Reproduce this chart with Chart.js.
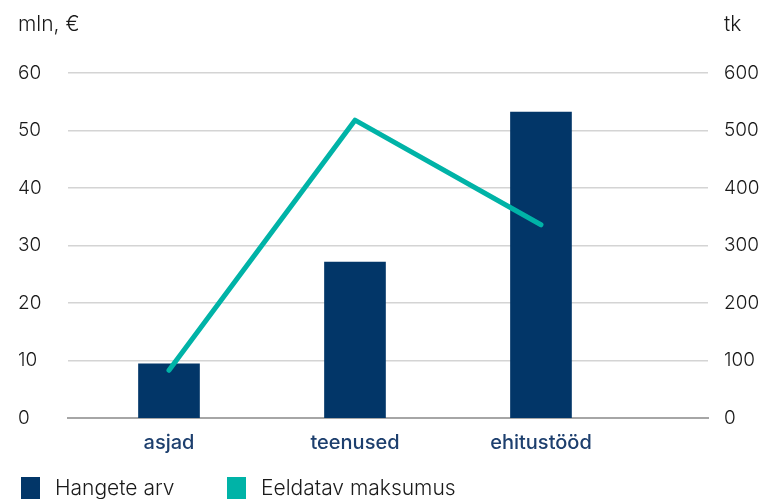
<!DOCTYPE html>
<html>
<head>
<meta charset="utf-8">
<script src="https://cdn.jsdelivr.net/npm/chart.js@4"></script>
<style>
  html, body { margin: 0; padding: 0; background: #fff; overflow: hidden; }
  #wrap { width: 783px; height: 499px; }
</style>
</head>
<body>
<div id="wrap"><canvas id="c"></canvas></div>
<script>
// kategooriad ja väärtused
const categories = ['asjad', 'teenused', 'ehitustööd'];
const hangeteArv = [94, 271, 532];          // tk, parem telg
const eeldatavMaksumus = [8.3, 51.8, 33.6]; // mln €, vasak telg
const leftTicks = [0, 10, 20, 30, 40, 50, 60];
const rightTicks = [0, 100, 200, 300, 400, 500, 600];

const NAVY = '#023668';
const TEAL = '#00b3a7';
const LEGEND_GAP = 48;

// telje pealkirjad üleval
const axisTitles = {
    id: 'axisTitles',
    afterDraw(chart) {
        const ctx = chart.ctx;
        ctx.save();
        ctx.font = '300 21px Inter';
        ctx.fillStyle = '#1a1a1a';
        ctx.textBaseline = 'middle';
        ctx.textAlign = 'left';
        ctx.fillText('mln, €', 18, 25);
        ctx.fillText('tk', 724, 25);
        ctx.restore();
    }
};

// legend: suur vahe elementide vahel, aga madal kõrgus
const legendPlace = {
    id: 'legendPlace',
    afterInit(chart) {
        const lg = chart.legend;
        const fit = lg.fit;
        lg.fit = function () { fit.call(this); this.height = 35; };
    },
    afterLayout(chart) {
        const lg = chart.legend;
        lg.top = 472.5 - LEGEND_GAP;
        lg.left = 16.5 - LEGEND_GAP;
    }
};

new Chart(document.getElementById('c'), {
    type: 'bar',
    data: {
        datasets: [
            {
                type: 'bar',
                label: 'Hangete arv',
                data: hangeteArv.map((v, i) => ({ x: i, y: v })),
                yAxisID: 'y1',
                backgroundColor: NAVY,
                borderWidth: 0,
                barThickness: 61,
                order: 2
            },
            {
                type: 'line',
                label: 'Eeldatav maksumus',
                data: eeldatavMaksumus.map((v, i) => ({ x: i, y: v })),
                yAxisID: 'y',
                borderColor: TEAL,
                backgroundColor: TEAL,
                borderWidth: 5,
                borderCapStyle: 'round',
                borderJoinStyle: 'round',
                pointRadius: 0,
                tension: 0,
                order: 1
            }
        ]
    },
    options: {
        responsive: true,
        maintainAspectRatio: false,
        animation: false,
        layout: { padding: { top: 73, left: 18, right: 0, bottom: 0 } },
        scales: {
            x: {
                type: 'linear',
                offset: false,
                min: -0.543,
                max: 2.898,
                afterBuildTicks(axis) { axis.ticks = categories.map((c, i) => ({ value: i })); },
                afterFit(axis) { axis.height = 46; },
                grid: { display: false },
                border: { display: true, color: '#a6a6a6', width: 2 },
                ticks: {
                    callback: (v) => categories[v],
                    color: '#1d3f6e',
                    font: { family: 'Inter', size: 20, weight: '500' },
                    padding: 5,
                    maxRotation: 0
                }
            },
            y: {
                position: 'left',
                min: 0,
                max: 60,
                afterBuildTicks(axis) { axis.ticks = leftTicks.map(v => ({ value: v })); },
                afterFit(axis) { axis.width = 50; },
                grid: { color: '#d4d4d4', lineWidth: 1.5, drawTicks: false },
                border: { display: false },
                ticks: {
                    color: '#1a1a1a',
                    crossAlign: 'far',
                    font: { family: 'Inter', size: 19, weight: '300' }
                }
            },
            y1: {
                position: 'right',
                min: 0,
                max: 600,
                afterBuildTicks(axis) { axis.ticks = rightTicks.map(v => ({ value: v })); },
                afterFit(axis) { axis.width = 75; },
                grid: { display: false, drawTicks: false },
                border: { display: false },
                ticks: {
                    color: '#1a1a1a',
                    padding: 16,
                    crossAlign: 'near',
                    font: { family: 'Inter', size: 19, weight: '300' }
                }
            }
        },
        plugins: {
            legend: {
                position: 'bottom',
                align: 'start',
                labels: {
                    // valge ääris teeb kasti väiksemaks, tekst jääb kaugemale
                    boxWidth: 28,
                    boxHeight: 32,
                    padding: LEGEND_GAP,
                    color: '#1a1a1a',
                    font: { family: 'Inter', size: 21, weight: '300' },
                    generateLabels(chart) {
                        return chart.data.datasets.map((ds, i) => ({
                            text: ds.label,
                            fillStyle: ds.type === 'line' ? ds.borderColor : ds.backgroundColor,
                            strokeStyle: '#ffffff',
                            lineWidth: 9,
                            fontColor: '#1a1a1a',
                            datasetIndex: i
                        }));
                    }
                }
            },
            tooltip: { enabled: false }
        }
    },
    plugins: [axisTitles, legendPlace]
});
</script>
</body>
</html>
